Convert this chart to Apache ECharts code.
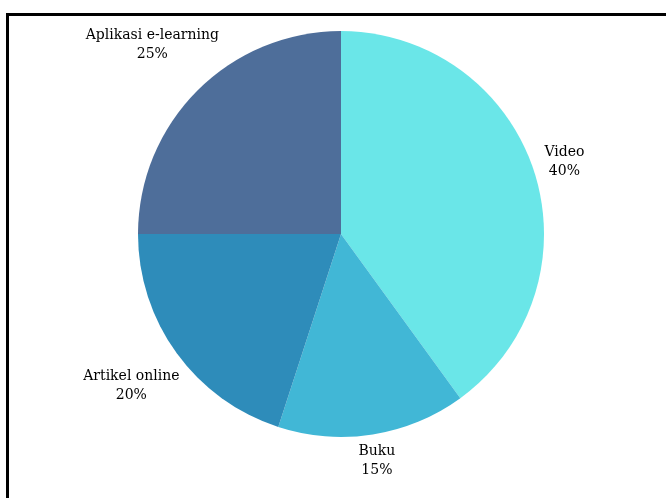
<!DOCTYPE html>
<html>
<head>
<meta charset="utf-8">
<script src="https://cdn.jsdelivr.net/npm/echarts@6/dist/echarts.min.js"></script>
<style>
  html, body { margin: 0; padding: 0; background: #fff; }
  #chart { width: 666px; height: 498px; }
</style>
</head>
<body>
<div id="chart"></div>
<script>
  // data
  var categories = ['Video', 'Buku', 'Artikel online', 'Aplikasi e-learning'];
  var shares = [40, 15, 20, 25];
  var sliceColors = ['#6ae6e8', '#41b7d6', '#2e8cba', '#4e6e9a'];

  var pieCenter = [341, 234];
  var pieRadius = 203;
  var labelGap = 8;   // nearest corner of a label box sits this far outside the pie

  var chart = echarts.init(document.getElementById('chart'));

  // mid angle of each slice (deg, clockwise from 90)
  function midAngle(idx) {
    var total = 0, before = 0;
    for (var i = 0; i < shares.length; i++) {
      total += shares[i];
      if (i < idx) before += shares[i];
    }
    return 90 - (before + shares[idx] / 2) / total * 360;
  }

  var option = {
    backgroundColor: '#fff',
    animation: false,
    color: sliceColors,
    graphic: [{
      type: 'rect',
      shape: { x: 7.5, y: 14.5, width: 700, height: 520 },
      style: { fill: null, stroke: '#000', lineWidth: 3 },
      silent: true
    }],
    series: [{
      type: 'pie',
      center: pieCenter,
      radius: pieRadius,
      startAngle: 90,
      clockwise: true,
      avoidLabelOverlap: false,
      data: categories.map(function (c, i) {
        return { name: c, value: shares[i] };
      }),
      itemStyle: { borderWidth: 0 },
      label: {
        show: true,
        position: 'outside',
        formatter: '{a|{b}}\n{a|{c}%}',
        rich: {
          a: {
            fontFamily: 'DejaVu Serif',
            fontSize: 14,
            lineHeight: 19,
            color: '#000',
            align: 'center'
          }
        }
      },
      labelLine: { show: false },
      labelLayout: function (params) {
        var ang = midAngle(params.dataIndex) * Math.PI / 180;
        var ux = Math.cos(ang), uy = -Math.sin(ang);
        var w = params.labelRect.width, h = params.labelRect.height;
        // push the box out along the mid angle until its nearest corner clears the pie
        var b = Math.abs(ux) * w / 2 + Math.abs(uy) * h / 2;
        var c = (w * w + h * h) / 4 - Math.pow(pieRadius + labelGap, 2);
        var t = b + Math.sqrt(b * b - c);
        return {
          x: pieCenter[0] + ux * t,
          y: pieCenter[1] + uy * t,
          align: 'center',
          verticalAlign: 'middle'
        };
      }
    }]
  };

  chart.setOption(option);

  window.addEventListener('resize', function () {
    chart.resize();
  });
</script>
</body>
</html>
